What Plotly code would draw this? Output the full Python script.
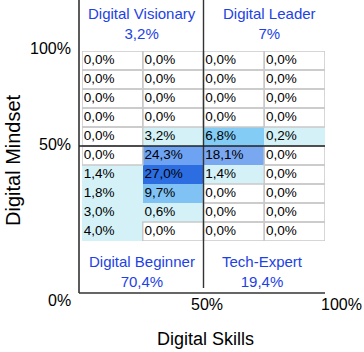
import plotly.graph_objects as go

# ---- data ----
columns = [0, 1, 2, 3]
rows = [0, 1, 2, 3, 4, 5, 6, 7, 8, 9]
values = [
    [0.0, 0.0, 0.0, 0.0],
    [0.0, 0.0, 0.0, 0.0],
    [0.0, 0.0, 0.0, 0.0],
    [0.0, 0.0, 0.0, 0.0],
    [0.0, 3.2, 6.8, 0.2],
    [0.0, 24.3, 18.1, 0.0],
    [1.4, 27.0, 1.4, 0.0],
    [1.8, 9.7, 0.0, 0.0],
    [3.0, 0.6, 0.0, 0.0],
    [4.0, 0.0, 0.0, 0.0],
]
quadrant_names = ["Digital Visionary", "Digital Leader", "Digital Beginner", "Tech-Expert"]
quadrant_shares = ["3,2%", "7%", "70,4%", "19,4%"]
y_tick_labels = ["100%", "50%", "0%"]
x_tick_labels = ["50%", "100%"]
x_title = "Digital Skills"
y_title = "Digital Mindset"

# ---- style ----
W, H = 364, 352
FONT = "Liberation Sans, Arial, sans-serif"
BLUE = "#1d42e3"
ZMAX = 27.0
colorscale = [
    [0.0, "#ffffff"],
    [0.004, "#ffffff"],
    [0.006, "#d3f1f6"],
    [4.0 / ZMAX, "#d3f1f6"],
    [6.8 / ZMAX, "#82ccf5"],
    [9.7 / ZMAX, "#80c2f3"],
    [18.1 / ZMAX, "#79a7f0"],
    [24.3 / ZMAX, "#6ea2f3"],
    [1.0, "#2c6ee2"],
]


def px(x):
    return x / W


def py(y):
    return 1 - y / H


def fmt(v):
    return f"{v:.1f}".replace(".", ",") + "%"


fig = go.Figure()
fig.add_trace(go.Heatmap(
    z=values, x=columns, y=rows, zmin=0, zmax=ZMAX,
    colorscale=colorscale, showscale=False, hoverinfo="skip",
))

# cell labels, left aligned in each cell
tx, ty, tt = [], [], []
for r, row in zip(rows, values):
    for c, v in zip(columns, row):
        tx.append(c - 0.5 + 0.03)
        ty.append(r)
        tt.append(fmt(v))
fig.add_trace(go.Scatter(
    x=tx, y=ty, text=tt, mode="text", textposition="middle right",
    textfont=dict(family=FONT, size=13.5, color="#000000"), hoverinfo="skip",
    showlegend=False,
))

shapes = []
# grey borders for empty cells
for r, row in zip(rows, values):
    for c, v in zip(columns, row):
        if v == 0:
            shapes.append(dict(type="rect", xref="x", yref="y",
                               x0=c - 0.5, x1=c + 0.5, y0=r - 0.5, y1=r + 0.5,
                               line=dict(color="#c9c9c9", width=1.5), fillcolor="rgba(0,0,0,0)"))
# axes
shapes.append(dict(type="line", xref="paper", yref="paper", x0=px(79), x1=px(79), y0=py(0), y1=py(293),
                   line=dict(color="#333333", width=1.6)))
shapes.append(dict(type="line", xref="paper", yref="paper", x0=px(79), x1=px(325), y0=py(293), y1=py(293),
                   line=dict(color="#333333", width=1.6)))
# quadrant dividers
shapes.append(dict(type="line", xref="x", yref="paper", x0=1.5, x1=1.5, y0=py(0), y1=py(288),
                   line=dict(color="#333333", width=1.4)))
shapes.append(dict(type="line", xref="paper", yref="y", x0=px(79), x1=px(325), y0=4.5, y1=4.5,
                   line=dict(color="#222222", width=1.6)))

annotations = []
quad_pos = [(142, 24), (269, 24), (142, 271), (262, 271)]
for name, share, (qx, qy) in zip(quadrant_names, quadrant_shares, quad_pos):
    annotations.append(dict(x=px(qx), y=py(qy), xref="paper", yref="paper", showarrow=False,
                            xanchor="center", yanchor="middle",
                            text=f"{name}<br>{share}", align="center",
                            font=dict(family=FONT, size=15, color=BLUE)))
for lab, yy in zip(y_tick_labels, [49, 145, 300]):
    annotations.append(dict(x=px(73), y=py(yy), xref="paper", yref="paper", showarrow=False,
                            xanchor="right", yanchor="middle", text=lab,
                            font=dict(family=FONT, size=16, color="#000000")))
for lab, xx in zip(x_tick_labels, [207, 341]):
    annotations.append(dict(x=px(xx), y=py(304), xref="paper", yref="paper", showarrow=False,
                            xanchor="center", yanchor="middle", text=lab,
                            font=dict(family=FONT, size=16, color="#000000")))
annotations.append(dict(x=px(205), y=py(339), xref="paper", yref="paper", showarrow=False,
                        xanchor="center", yanchor="middle", text=x_title,
                        font=dict(family=FONT, size=18, color="#000000")))
annotations.append(dict(x=px(13), y=py(160), xref="paper", yref="paper", showarrow=False,
                        xanchor="center", yanchor="middle", text=y_title, textangle=-90,
                        font=dict(family=FONT, size=20, color="#000000")))

fig.update_layout(
    width=W, height=H, margin=dict(l=0, r=0, t=0, b=0),
    paper_bgcolor="white", plot_bgcolor="white", showlegend=False,
    xaxis=dict(domain=[px(82), px(325)], range=[-0.5, 3.5], visible=False, fixedrange=True),
    yaxis=dict(domain=[py(241), py(51)], range=[9.5, -0.5], visible=False, fixedrange=True),
    shapes=shapes, annotations=annotations,
)
fig.write_html("out.html", config={"displayModeBar": False},
               post_script="document.body.style.margin='0';document.body.style.overflow='hidden';")
